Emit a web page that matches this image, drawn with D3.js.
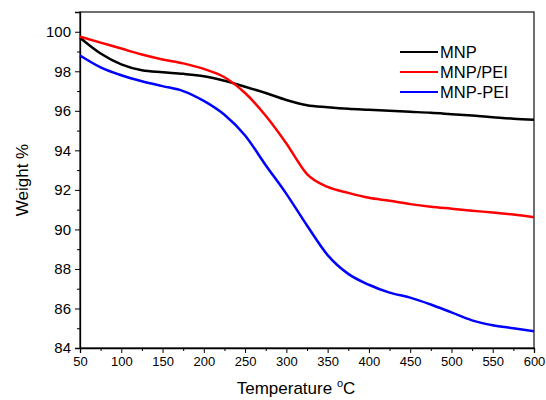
<!DOCTYPE html>
<html>
<head>
<meta charset="utf-8">
<script src="https://cdn.jsdelivr.net/npm/d3@7"></script>
<style>
  body { margin: 0; background: #fff; }
  text { font-family: "Liberation Sans", Arial, sans-serif; fill: #000; }
</style>
</head>
<body>
<div id="container"></div>
<script>
/* DATA */
const temps = [50, 75, 100, 125, 150, 175, 200, 225, 250, 275, 300, 325, 350, 375, 400, 425, 450, 475, 500, 525, 550, 575, 600];
const mnp = [99.7, 98.9, 98.35, 98.05, 97.95, 97.87, 97.75, 97.52, 97.22, 96.9, 96.55, 96.28, 96.18, 96.1, 96.05, 96.0, 95.95, 95.9, 95.83, 95.76, 95.68, 95.6, 95.55];
const mnpPei1 = [99.75, 99.45, 99.15, 98.85, 98.6, 98.4, 98.12, 97.7, 96.9, 95.75, 94.35, 92.8, 92.15, 91.85, 91.6, 91.45, 91.28, 91.15, 91.05, 90.95, 90.85, 90.75, 90.62];
const mnpPei2 = [98.8, 98.2, 97.8, 97.5, 97.25, 97.0, 96.5, 95.8, 94.75, 93.25, 91.8, 90.2, 88.7, 87.75, 87.2, 86.8, 86.55, 86.2, 85.8, 85.4, 85.15, 85.0, 84.85];
const seriesNames = ["MNP", "MNP/PEI", "MNP-PEI"];
const seriesColors = ["#000000", "#ff0000", "#0000ff"];
const xTicks = [50, 100, 150, 200, 250, 300, 350, 400, 450, 500, 550, 600];
const yTicks = [84, 86, 88, 90, 92, 94, 96, 98, 100];

/* CONSTANTS */
const width = 546, height = 400,
  margin = { top: 12, right: 12, bottom: 52, left: 80 };

const svg = d3.select("#container").append("svg")
  .attr("width", width).attr("height", height);

const xScale = d3.scaleLinear().domain([50, 600]).range([margin.left, width - margin.right]);
const yScale = d3.scaleLinear().domain([84, 101]).range([height - margin.bottom, margin.top]);

// frame
svg.append("rect")
  .attr("x", margin.left).attr("y", margin.top)
  .attr("width", width - margin.left - margin.right)
  .attr("height", height - margin.top - margin.bottom)
  .attr("fill", "none").attr("stroke", "#222").attr("stroke-width", 1.3);

// minor ticks
const xMinor = xTicks.slice(0, -1).map(d => d + 25);
const yMinor = d3.range(85, 101, 2);
svg.append("g")
  .attr("transform", `translate(0, ${height - margin.bottom})`)
  .call(d3.axisBottom(xScale).tickValues(xMinor).tickSize(3).tickFormat(""))
  .call(g => g.select(".domain").remove());
svg.append("g")
  .attr("transform", `translate(${margin.left}, 0)`)
  .call(d3.axisLeft(yScale).tickValues(yMinor).tickSize(3).tickFormat(""))
  .call(g => g.select(".domain").remove());

// major axes
svg.append("g")
  .attr("transform", `translate(0, ${height - margin.bottom})`)
  .call(d3.axisBottom(xScale).tickValues(xTicks).tickSize(5).tickPadding(4))
  .call(g => g.select(".domain").attr("stroke-width", 1.3))
  .selectAll("text")
    .style("font-size", "13px");

svg.append("g")
  .attr("transform", `translate(${margin.left}, 0)`)
  .call(d3.axisLeft(yScale).tickValues(yTicks).tickSize(5).tickPadding(4))
  .call(g => g.select(".domain").attr("stroke-width", 1.3))
  .selectAll("text")
    .style("font-size", "15px");

// axis titles
svg.append("text")
  .attr("transform", `translate(28, 180) rotate(-90)`)
  .attr("text-anchor", "middle")
  .style("font-size", "17px")
  .text("Weight %");

const xt = svg.append("text")
  .attr("x", 296).attr("y", 394)
  .attr("text-anchor", "middle")
  .style("font-size", "17px");
xt.append("tspan").text("Temperature ");
xt.append("tspan").attr("dy", -7).style("font-size", "11px").text("o");
xt.append("tspan").attr("dy", 7).text("C");

// lines
const allSeries = [mnp, mnpPei1, mnpPei2];
const line = d3.line()
  .x((d, i) => xScale(temps[i]))
  .y(d => yScale(d))
  .curve(d3.curveMonotoneX);

svg.selectAll("path.series")
  .data(allSeries)
  .join("path")
  .attr("class", "series")
  .attr("d", d => line(d))
  .attr("fill", "none")
  .attr("stroke", (d, i) => seriesColors[i])
  .attr("stroke-width", 2.5);

// legend
const legend = svg.append("g");
seriesNames.forEach((name, i) => {
  const y = 52 + i * 20;
  legend.append("line")
    .attr("x1", 400).attr("x2", 438).attr("y1", y).attr("y2", y)
    .attr("stroke", seriesColors[i]).attr("stroke-width", 2);
  legend.append("text")
    .attr("x", 440).attr("y", y + 6)
    .style("font-size", "16.5px")
    .text(name);
});
</script>
</body>
</html>
